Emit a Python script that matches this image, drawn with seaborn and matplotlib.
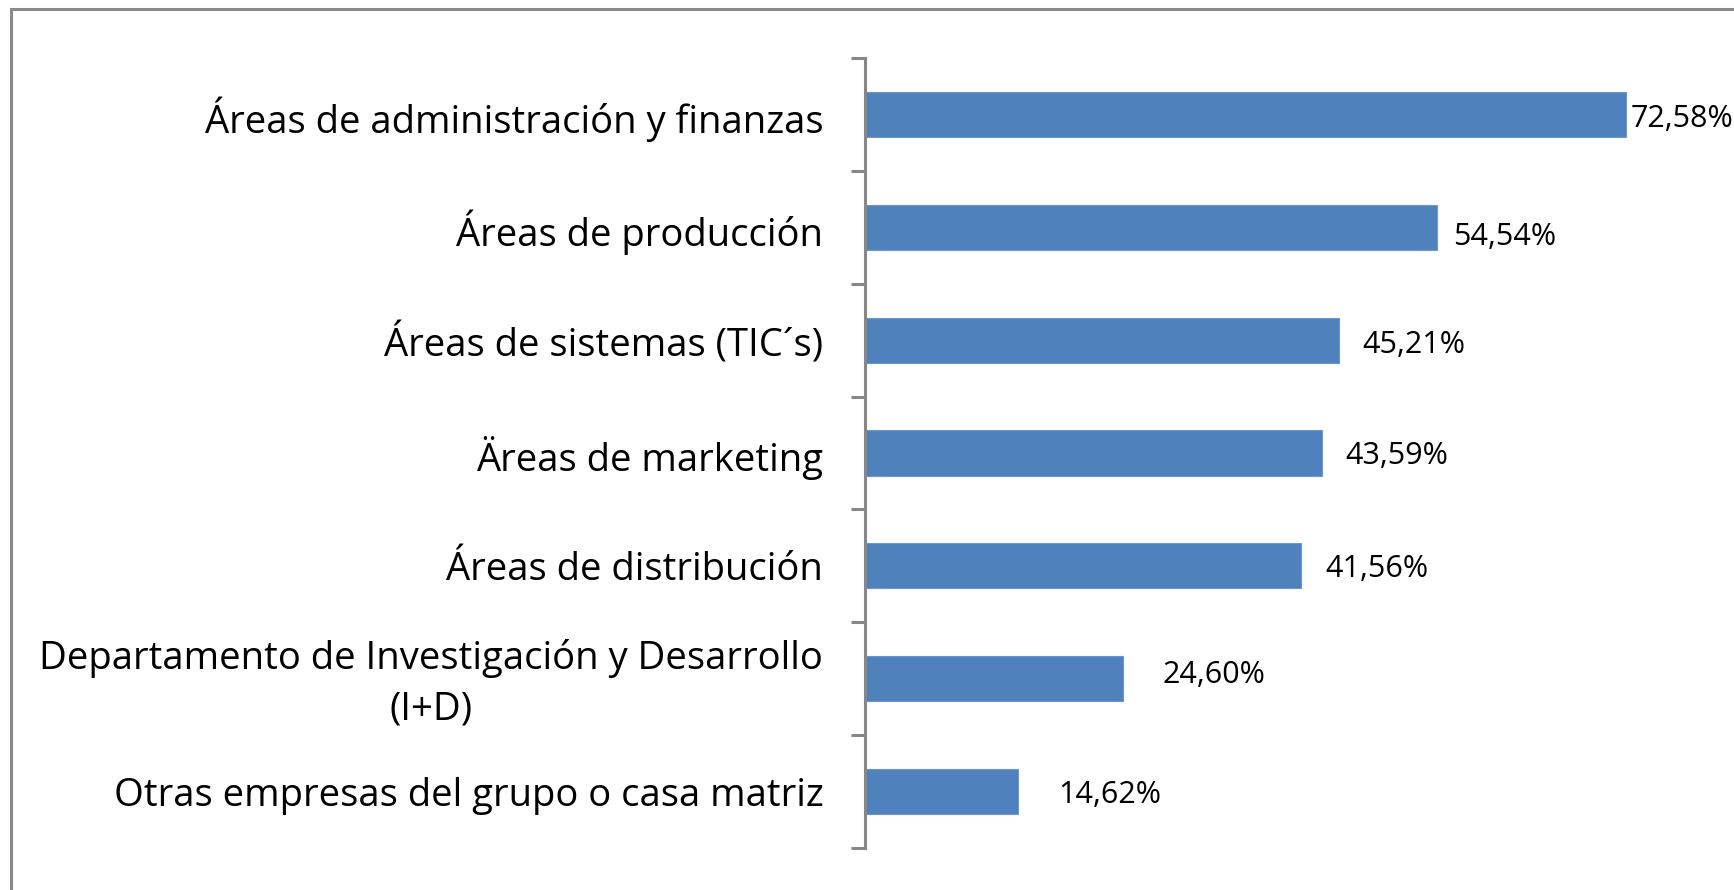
import matplotlib
matplotlib.use("Agg")
import matplotlib.pyplot as plt
import seaborn as sns
import pandas as pd
from matplotlib.patches import Rectangle
from matplotlib.transforms import ScaledTranslation

# Data
categories = [
    "Áreas de administración y finanzas",
    "Áreas de producción",
    "Áreas de sistemas (TIC´s)",
    "Äreas de marketing",
    "Áreas de distribución",
    "Departamento de Investigación y Desarrollo\n(I+D)",
    "Otras empresas del grupo o casa matriz",
]
values = [72.58, 54.54, 45.21, 43.59, 41.56, 24.60, 14.62]
value_labels = ["72,58%", "54,54%", "45,21%", "43,59%", "41,56%", "24,60%", "14,62%"]

# Horizontal gap between bar end and its label (in axis units)
label_gap = [0.42, 1.58, 2.2, 2.2, 2.3, 3.8, 3.8]
label_drop = [0.04, 0.09, 0.04, 0.03, 0.03, -0.03, 0.03]

df = pd.DataFrame({"categoria": categories, "valor": values})

sns.set_theme(style="white")
plt.rcParams["font.family"] = ["Open Sans", "DejaVu Sans"]

W, H = 1734, 890
fig = plt.figure(figsize=(W / 100, H / 100), dpi=100)
fig.patch.set_facecolor("white")

# Chart frame (left and top edges visible)
fig.patches.append(Rectangle((11 / W, -0.05), 1.2, (H - 9) / H + 0.05,
                             transform=fig.transFigure, fill=False,
                             edgecolor="#8a8a8a", linewidth=2.2, zorder=0))

ax_left, ax_top, ax_bottom = 865 / W, 1 - 58 / H, 1 - 848 / H
ax_right = 1704 / W
ax = fig.add_axes([ax_left, ax_bottom, ax_right - ax_left, ax_top - ax_bottom])

sns.barplot(data=df, y="categoria", x="valor", orient="h", color="#4F81BD",
            width=0.4, saturation=1, edgecolor="#6d97cc", linewidth=0.8, ax=ax)

ax.set_xlim(0, 80)
ax.set_ylim(len(categories) - 0.5, -0.5)
ax.set_xlabel("")
ax.set_ylabel("")
ax.set_xticks([])

for s in ["top", "right", "bottom"]:
    ax.spines[s].set_visible(False)
ax.spines["left"].set_color("#878787")
ax.spines["left"].set_linewidth(2.2)

# Category labels without marks; marks at the boundaries between categories
ax.tick_params(axis="y", which="major", left=True, length=0, pad=30,
               labelsize=27.5, labelcolor="black")
ax.set_yticks([i - 0.5 for i in range(len(categories) + 1)], minor=True)
ax.tick_params(axis="y", which="minor", left=True, length=10, width=2.2,
               color="#878787", direction="out")
for lbl in ax.get_yticklabels():
    lbl.set_multialignment("center")
    lbl.set_linespacing(1.42)
    if "\n" in lbl.get_text():
        lbl.set_transform(lbl.get_transform()
                          + ScaledTranslation(0, 4 / 72, fig.dpi_scale_trans))

for i, (v, t) in enumerate(zip(values, value_labels)):
    ax.text(v + label_gap[i], i + label_drop[i], t, va="center", ha="left",
            fontsize=22, color="black", clip_on=False)

fig.savefig("out.png", dpi=100, facecolor="white")
